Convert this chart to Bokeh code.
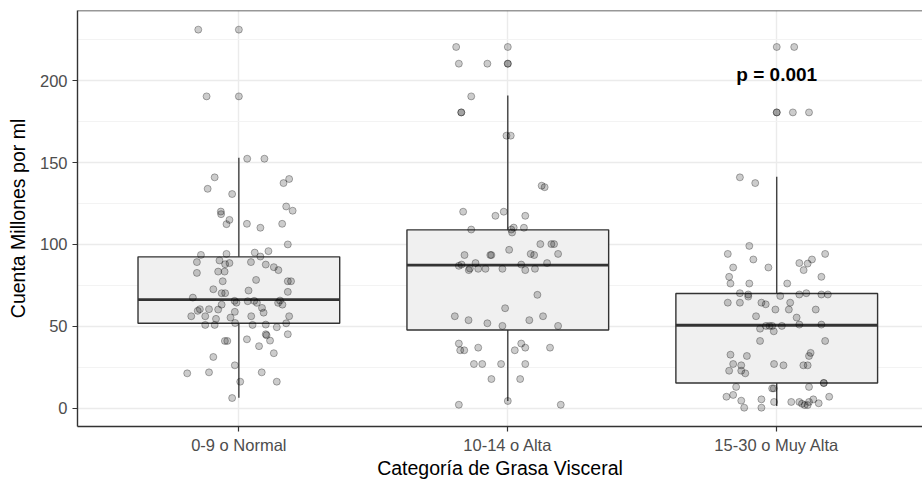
import numpy as np
from bokeh.plotting import figure
from bokeh.models import Range1d, FixedTicker, Span, Label, ColumnDataSource
from bokeh.embed import file_html
from bokeh.resources import INLINE

# ---------------- data ----------------
categories = ["0-9 o Normal", "10-14 o Alta", "15-30 o Muy Alta"]

# box statistics
box_lo = [6.3, 4.3, 1.2]
box_q1 = [51.8, 47.7, 15.3]
box_med = [66.3, 87.3, 50.6]
box_q3 = [92.4, 108.9, 70.0]
box_hi = [153.0, 191.0, 141.4]

# jittered observations: values and horizontal jitter (category units)
g1_vals = [231.3, 231.3, 190.5, 190.5, 152.4, 152.4, 141.0, 134.0, 130.8, 140.0,
           137.5, 123.2, 120.6, 120.1, 118.5, 115.0, 112.4, 112.6, 110.2, 112.6,
           100.0, 93.6, 94.2, 95.0, 95.9, 92.6, 89.2, 90.2, 87.9, 88.6,
           89.2, 87.7, 86.1, 84.3, 82.6, 83.4, 83.4, 77.5, 78.3, 77.5,
           77.5, 72.6, 71.8, 70.2, 70.2, 71.0, 67.5, 65.5, 64.4, 65.3,
           65.5, 64.3, 65.7, 64.3, 63.2, 63.2, 60.4, 59.4, 60.4, 60.2,
           61.2, 58.3, 58.8, 56.1, 56.1, 54.5, 55.3, 56.1, 56.1, 50.8,
           50.8, 52.0, 50.8, 51.0, 49.4, 51.8, 45.1, 44.5, 45.1, 41.0,
           41.0, 42.0, 41.2, 37.8, 33.5, 31.2, 26.1, 21.2, 21.8, 21.8,
           16.1, 16.1, 6.1]
g1_jit = [-0.151, 0.0, -0.12, 0.0, 0.031, 0.095, -0.09, -0.116, -0.025, 0.187,
          0.166, 0.176, 0.2, -0.067, -0.066, -0.035, -0.046, 0.03, 0.08, 0.161,
          0.182, -0.141, -0.046, 0.059, 0.11, 0.08, -0.156, -0.072, -0.051, -0.035,
          0.045, 0.1, 0.13, 0.147, -0.156, -0.077, -0.053, -0.06, 0.064, 0.182,
          0.194, -0.095, 0.036, -0.064, -0.051, 0.182, -0.171, -0.016, -0.009, 0.033,
          0.057, 0.067, 0.153, 0.146, 0.162, -0.064, -0.145, -0.153, -0.111, -0.077,
          0.086, 0.092, -0.015, -0.177, -0.125, -0.085, -0.031, 0.046, 0.187, -0.125,
          -0.09, -0.014, 0.051, 0.1, 0.141, 0.176, 0.1, 0.103, 0.182, -0.052,
          -0.043, 0.03, 0.116, 0.075, 0.13, -0.095, -0.015, -0.192, -0.111, 0.085,
          0.005, 0.141, -0.025]

g2_vals = [220.7, 220.7, 210.5, 210.5, 210.5, 210.5, 190.5, 180.7, 180.7, 166.5,
           166.5, 135.9, 135.0, 120.0, 117.5, 120.0, 117.5, 109.1, 109.1, 110.3,
           107.3, 110.2, 100.2, 100.2, 100.2, 96.7, 93.5, 93.5, 93.5, 94.2,
           93.5, 94.2, 86.9, 87.7, 88.6, 85.3, 84.3, 85.1, 85.1, 85.1,
           87.7, 84.3, 85.1, 88.6, 69.2, 61.0, 56.1, 53.7, 51.8, 50.2,
           53.7, 56.1, 50.2, 39.4, 35.3, 35.3, 36.9, 39.4, 36.9, 35.3,
           36.9, 26.9, 26.9, 26.9, 26.9, 17.7, 17.7, 2.0, 4.3, 2.0]
g2_jit = [-0.192, 0.0, -0.182, -0.076, 0.0, 0.0, -0.136, -0.173, -0.173, -0.005,
          0.011, 0.126, 0.137, -0.166, -0.046, -0.015, 0.065, -0.136, 0.013, 0.022,
          0.016, 0.06, 0.121, 0.162, 0.172, 0.005, -0.161, -0.065, -0.061, 0.085,
          0.098, 0.187, -0.182, -0.172, -0.12, -0.141, -0.145, -0.11, -0.083, -0.02,
          0.05, 0.065, 0.101, 0.146, 0.11, -0.01, -0.197, -0.146, -0.076, -0.02,
          0.08, 0.131, 0.187, -0.182, -0.177, -0.162, -0.11, 0.05, 0.065, 0.026,
          0.157, -0.126, -0.095, -0.025, 0.065, -0.061, 0.046, -0.182, 0.0, 0.197]

g3_vals = [220.7, 220.7, 180.7, 180.7, 180.7, 180.7, 141.0, 137.5, 99.1, 94.2,
           90.8, 85.9, 85.9, 94.2, 90.8, 88.3, 88.6, 84.3, 80.2, 80.2,
           76.1, 76.1, 76.1, 70.2, 69.4, 68.1, 68.5, 69.4, 70.2, 69.4,
           69.4, 64.4, 64.4, 64.4, 63.4, 64.4, 60.2, 60.2, 60.2, 56.1,
           55.3, 48.5, 50.2, 50.2, 50.2, 46.9, 50.2, 51.0, 51.0, 41.0,
           41.0, 32.6, 31.8, 33.7, 31.8, 26.9, 26.1, 26.9, 26.1, 26.1,
           26.1, 22.8, 22.8, 21.2, 15.3, 15.3, 12.9, 12.0, 12.0, 12.9,
           6.9, 8.0, 4.5, 0.2, 5.3, 0.2, 3.7, 3.7, 3.7, 2.6,
           1.8, 1.8, 3.7, 5.3, 2.9, 6.9]
g3_jit = [0.0, 0.065, 0.0, 0.0, 0.06, 0.12, -0.137, -0.08, -0.102, -0.182,
          -0.087, -0.162, -0.031, 0.18, 0.131, 0.115, 0.084, 0.1, 0.166, -0.177,
          -0.172, -0.102, 0.039, -0.137, -0.106, -0.106, 0.013, 0.084, 0.11, 0.166,
          0.19, -0.182, -0.137, -0.057, -0.041, 0.05, -0.005, 0.045, 0.145, -0.077,
          0.074, -0.062, -0.04, -0.027, -0.017, -0.011, 0.019, 0.084, 0.166, -0.062,
          0.18, -0.172, -0.111, 0.126, 0.12, -0.162, -0.132, -0.01, 0.025, 0.099,
          0.115, -0.177, -0.132, -0.117, 0.175, 0.175, -0.151, -0.017, -0.011, 0.12,
          -0.187, -0.162, -0.132, -0.121, -0.057, -0.057, -0.01, 0.054, 0.084, 0.094,
          0.104, 0.115, 0.12, 0.136, 0.156, 0.195]

y_ticks = [0, 50, 100, 150, 200]
y_minor = [25, 75, 125, 175, 225]
p_label = "p = 0.001"
p_label_pos = (3, 204)

# ---------------- figure ----------------
FONT = "Liberation Sans"
Y_TOP = 243.0
p = figure(width=922, height=481, output_backend="svg", toolbar_location=None,
           x_range=Range1d(0.4, 3.542), y_range=Range1d(-11.3, Y_TOP),
           min_border_left=77, min_border_top=10, min_border_right=0, min_border_bottom=52)
p.background_fill_color = "white"
p.border_fill_color = "white"
p.outline_line_color = None

xpos = np.arange(1, len(categories) + 1)

# grid
p.xgrid.ticker = FixedTicker(ticks=list(xpos))
p.ygrid.ticker = FixedTicker(ticks=y_ticks, minor_ticks=y_minor)
for g in (p.xgrid, p.ygrid):
    g.grid_line_color = "#EBEBEB"
    g.grid_line_width = 1.4
p.ygrid.minor_grid_line_color = "#F2F2F2"
p.ygrid.minor_grid_line_width = 0.9

# boxes
bw = 0.75
p.vbar(x=xpos, width=bw, bottom=box_q1, top=box_q3, fill_color="#F0F0F0",
       line_color="#333333", line_width=1.4)
p.segment(x0=xpos, x1=xpos, y0=box_q3, y1=box_hi, line_color="#333333", line_width=1.3)
p.segment(x0=xpos, x1=xpos, y0=box_lo, y1=box_q1, line_color="#333333", line_width=1.3)
p.segment(x0=xpos - bw / 2, x1=xpos + bw / 2, y0=box_med, y1=box_med,
          line_color="#333333", line_width=2.8)

# jittered points
xs, ys = [], []
for i, (vals, jit) in enumerate([(g1_vals, g1_jit), (g2_vals, g2_jit), (g3_vals, g3_jit)]):
    xs += [xpos[i] + j for j in jit]
    ys += vals
src = ColumnDataSource(dict(x=xs, y=ys))
p.scatter("x", "y", source=src, size=7, fill_color="black", fill_alpha=0.2,
          line_color="black", line_alpha=0.3, line_width=1)

# annotation
p.add_layout(Label(x=p_label_pos[0], y=p_label_pos[1], text=p_label,
                   text_font=FONT, text_font_style="bold", text_font_size="19px",
                   text_color="black", text_align="center", text_baseline="middle"))

# top border of the panel
p.add_layout(Span(location=Y_TOP, dimension="width", line_color="#333333", line_width=1.6))

# axes
p.xaxis.ticker = FixedTicker(ticks=list(xpos))
p.xaxis.major_label_overrides = {int(k): v for k, v in zip(xpos, categories)}
p.yaxis.ticker = FixedTicker(ticks=y_ticks)
for ax in (p.xaxis[0], p.yaxis[0]):
    ax.axis_line_color = "#333333"
    ax.axis_line_width = 1.4
    ax.major_tick_line_color = "#333333"
    ax.major_tick_line_width = 1.2
    ax.major_tick_out = 5
    ax.major_tick_in = 0
    ax.minor_tick_out = 0
    ax.minor_tick_in = 0
    ax.major_label_text_font = FONT
    ax.major_label_text_font_size = "16.5px"
    ax.major_label_text_color = "#4D4D4D"
    ax.axis_label_text_font = FONT
    ax.axis_label_text_font_size = "19.5px"
    ax.axis_label_text_font_style = "normal"
    ax.axis_label_text_color = "black"
p.xaxis.major_label_standoff = 4
p.xaxis.axis_label_standoff = 0
p.yaxis.major_label_standoff = 5
p.yaxis.axis_label_standoff = 8
p.xaxis.axis_label = "Categoría de Grasa Visceral"
p.yaxis.axis_label = "Cuenta Millones por ml"

open("out.html", "w").write(file_html(p, INLINE))
